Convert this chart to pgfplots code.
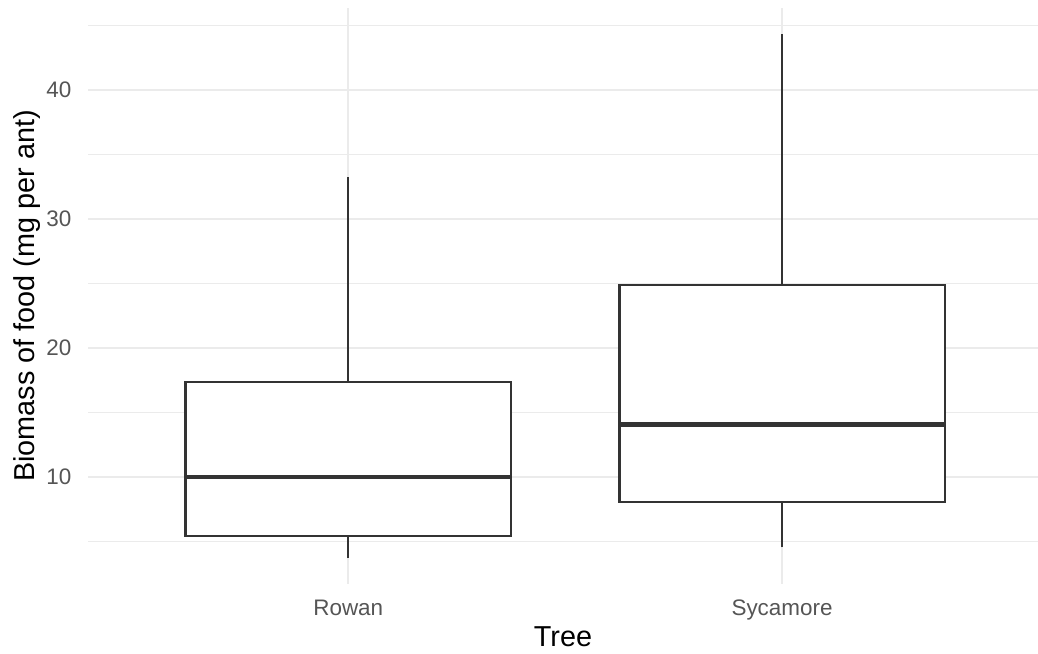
\documentclass[border=0pt]{standalone}
\usepackage{fontspec}
\setmainfont{Liberation Sans}
\usepackage{pgfplots}
\pgfplotsset{compat=1.18}
\definecolor{gridc}{HTML}{EBEBEB}
\definecolor{boxc}{HTML}{333333}
\definecolor{tickc}{HTML}{555555}
\begin{document}
\begin{tikzpicture}
\useasboundingbox (-34.5pt,-27.1pt) rectangle (372.5pt,229pt);
\begin{axis}[
  at={(0,0)}, anchor=south west,
  scale only axis, width=372.5pt, height=225.9pt,
  xmin=0.4, xmax=2.59, ymin=1.71, ymax=46.36,
  axis line style={draw=none},
  tick style={draw=none},
  major tick length=0pt, minor tick length=0pt,
  xtick={1,2}, xticklabels={Rowan,Sycamore},
  ytick={10,20,30,40}, minor ytick={5,15,25,35,45},
  xmajorgrids, ymajorgrids, yminorgrids,
  major grid style={gridc, line width=0.9pt},
  minor grid style={gridc, line width=0.5pt},
  /pgf/number format/assume math mode=true,
  ticklabel style={font=\fontsize{8.8}{10}\selectfont, text=tickc},
  yticklabel style={anchor=east, inner sep=0pt, xshift=-6.3pt},
  xticklabel style={anchor=base, inner sep=0pt, yshift=-12.5pt},
  xlabel={Tree}, ylabel={Biomass of food (mg per ant)},
  label style={font=\fontsize{11.3}{13}\selectfont},
  xlabel style={at={([yshift=-24.3pt]axis description cs:0.5,0)}, anchor=base, inner sep=0pt},
  ylabel style={at={([xshift=-20.8pt]axis description cs:0,0.5)}, anchor=base, inner sep=0pt},
]
% Rowan
\addplot[draw=boxc, line width=0.95pt, mark=none] coordinates {(1,17.36) (1,33.26)};
\addplot[draw=boxc, line width=0.95pt, mark=none] coordinates {(1,3.72) (1,5.43)};
\addplot[draw=boxc, line width=0.95pt, mark=none, fill=white] coordinates {(0.625,5.43) (1.375,5.43) (1.375,17.36) (0.625,17.36)} -- cycle;
\addplot[draw=boxc, line width=1.9pt, mark=none] coordinates {(0.625,10.0) (1.375,10.0)};
% Sycamore
\addplot[draw=boxc, line width=0.95pt, mark=none] coordinates {(2,24.9) (2,44.3)};
\addplot[draw=boxc, line width=0.95pt, mark=none] coordinates {(2,4.55) (2,8.08)};
\addplot[draw=boxc, line width=0.95pt, mark=none, fill=white] coordinates {(1.625,8.08) (2.375,8.08) (2.375,24.9) (1.625,24.9)} -- cycle;
\addplot[draw=boxc, line width=1.9pt, mark=none] coordinates {(1.625,14.05) (2.375,14.05)};
\end{axis}
\end{tikzpicture}
\end{document}
